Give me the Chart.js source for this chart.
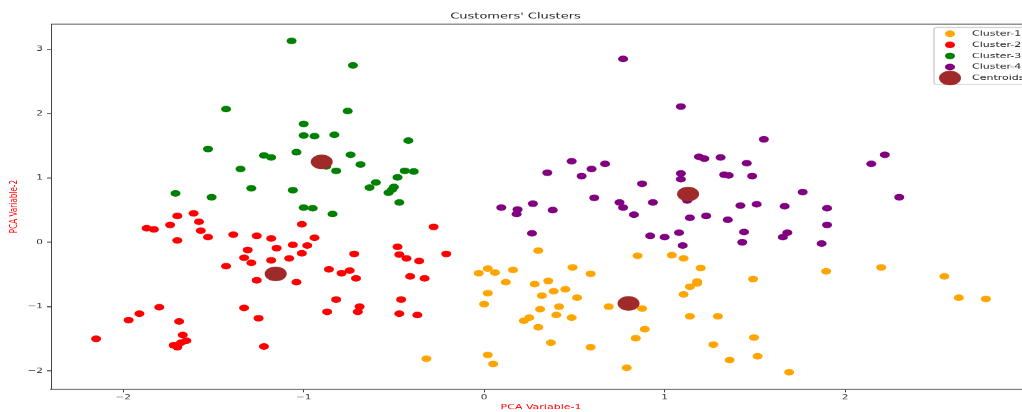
<!DOCTYPE html>
<html>
<head>
<meta charset="utf-8">
<script src="https://cdn.jsdelivr.net/npm/chart.js@4.4.0/dist/chart.umd.min.js"></script>
<style>
  html, body { margin: 0; padding: 0; background: #fff; overflow: hidden; }
  /* the reference figure is squashed vertically, so draw tall and scale down */
  #wrap { width: 1082px; height: 624px; transform: scaleY(0.66); transform-origin: 0 0; }
</style>
</head>
<body>
<div id="wrap"><canvas id="chart" width="1082" height="624"></canvas></div>
<script>
// axis ranges / ticks
const xMin = -2.40, xMax = 3.03;
const yMin = -2.28, yMax = 3.39;
const xTicks = [-2, -1, 0, 1, 2];
const yTicks = [-2, -1, 0, 1, 2, 3];

// Cluster-1 (orange)
const c1X = [0.30, -0.03, 0.02, 0.06, 0.16, 0.12, 0.02, 0.00, 0.28, 0.355, 0.385, 0.45, 0.32, 0.515, 0.49, 0.59,
  0.415, 0.31, 0.40, 0.485, 0.25, 0.22, 0.30, 0.69, 0.875, 0.89, 0.84, 0.37, 0.59, 0.79, 0.02, 0.05, -0.32, 0.85,
  1.04, 1.105, 1.20, 1.18, 1.14, 1.18, 1.105, 1.14, 1.295, 1.27, 1.36, 1.495, 1.515, 1.69, 1.49, 1.895, 2.20, 2.55, 2.63, 2.78];
const c1Y = [-0.13, -0.48, -0.41, -0.47, -0.43, -0.62, -0.79, -0.96, -0.65, -0.60, -0.76, -0.73, -0.83, -0.86, -0.39, -0.49,
  -1.00, -1.04, -1.13, -1.17, -1.17, -1.22, -1.32, -1.00, -1.03, -1.35, -1.49, -1.56, -1.63, -1.95, -1.75, -1.89, -1.81, -0.21,
  -0.20, -0.25, -0.40, -0.61, -0.69, -0.64, -0.81, -1.15, -1.15, -1.59, -1.83, -1.48, -1.77, -2.02, -0.57, -0.45, -0.39, -0.53, -0.86, -0.88];

// Cluster-2 (red)
const c2X = [-1.87, -1.83, -1.74, -1.70, -1.70, -1.61, -1.58, -1.57, -1.53, -1.39, -1.26, -1.18, -1.15, -1.31, -1.33, -1.29,
  -1.18, -1.08, -1.06, -1.01, -0.98, -0.94, -1.01, -1.43, -1.26, -1.04, -0.86, -0.82, -0.87, -1.33, -1.25, -1.22,
  -1.80, -1.91, -1.97, -2.15, -1.69, -1.67, -1.65, -1.72, -1.70, -1.68, -0.79, -0.28, -0.48, -0.47, -0.43, -0.36,
  -0.21, -0.72, -0.745, -0.71, -0.41, -0.33, -0.46, -0.69, -0.70, -0.47, -0.37];
const c2Y = [0.22, 0.20, 0.27, 0.41, 0.03, 0.45, 0.32, 0.18, 0.08, 0.12, 0.10, 0.06, -0.09, -0.12, -0.24, -0.32,
  -0.28, -0.25, -0.04, -0.17, -0.05, 0.07, 0.28, -0.37, -0.59, -0.62, -0.42, -0.89, -1.08, -1.02, -1.18, -1.62,
  -1.01, -1.11, -1.21, -1.50, -1.23, -1.44, -1.53, -1.60, -1.63, -1.56, -0.48, 0.24, -0.07, -0.19, -0.25, -0.29,
  -0.18, -0.18, -0.44, -0.56, -0.53, -0.56, -0.89, -1.00, -1.08, -1.11, -1.13];

// Cluster-3 (green)
const c3X = [-1.067, -1.43, -1.00, -1.00, -0.94, -0.83, -1.53, -1.22, -1.18, -1.04, -1.35, -0.875, -0.82, -1.71, -1.51, -1.29,
  -1.06, -1.00, -0.95, -0.84, -0.727, -0.756, -0.74, -0.685, -0.42, -0.60, -0.635, -0.48, -0.44, -0.39, -0.50, -0.51, -0.53, -0.47];
const c3Y = [3.13, 2.07, 1.84, 1.66, 1.65, 1.67, 1.45, 1.35, 1.32, 1.40, 1.14, 1.18, 1.11, 0.76, 0.70, 0.84,
  0.81, 0.54, 0.53, 0.44, 2.75, 2.04, 1.36, 1.21, 1.58, 0.93, 0.85, 1.01, 1.11, 1.10, 0.86, 0.82, 0.77, 0.62];

// Cluster-4 (purple)
const c4X = [0.77, 0.485, 0.35, 0.54, 0.595, 0.67, 0.875, 0.61, 0.75, 0.77, 0.935, 0.27, 0.095, 0.185, 0.18, 0.38, 0.83,
  0.265, 0.92, 1.00, 1.09, 1.55, 1.19, 1.22, 1.31, 1.455, 1.33, 1.355, 1.485, 1.09, 1.09, 1.125, 2.145, 2.22, 1.765,
  2.30, 1.42, 1.51, 1.665, 1.90, 1.14, 1.23, 1.35, 1.08, 1.10, 1.44, 1.43, 1.68, 1.655, 1.90, 1.87];
const c4Y = [2.85, 1.26, 1.08, 1.03, 1.14, 1.22, 0.91, 0.69, 0.62, 0.54, 0.62, 0.60, 0.54, 0.51, 0.44, 0.50, 0.43,
  0.14, 0.10, 0.08, 2.11, 1.60, 1.33, 1.30, 1.32, 1.23, 1.05, 1.04, 1.03, 1.07, 0.98, 0.65, 1.22, 1.36, 0.78,
  0.70, 0.57, 0.59, 0.56, 0.53, 0.38, 0.41, 0.35, 0.15, -0.05, 0.16, 0.00, 0.15, 0.08, 0.27, -0.02];

// Centroids
const centX = [0.80, -1.155, -0.90, 1.13];
const centY = [-0.95, -0.49, 1.25, 0.75];

const pts = (xs, ys) => xs.map((x, i) => ({ x: x, y: ys[i] }));
const fmt = (v) => (v < 0 ? '\u2212' + Math.abs(v) : String(v));

// top/right spines like matplotlib
const framePlugin = {
  id: 'frame',
  beforeDatasetsDraw(chart) {
    const { ctx, chartArea: a } = chart;
    ctx.save();
    ctx.strokeStyle = '#444';
    ctx.lineWidth = 1.5;
    ctx.beginPath();
    ctx.moveTo(a.left, a.top);
    ctx.lineTo(a.right, a.top);
    ctx.stroke();
    ctx.lineWidth = 1;
    ctx.beginPath();
    ctx.moveTo(a.right, a.top);
    ctx.lineTo(a.right, a.bottom);
    ctx.stroke();
    ctx.restore();
  }
};

// boxed legend in the upper right corner
const boxLegend = {
  id: 'boxLegend',
  afterDraw(chart) {
    const { ctx, chartArea: a } = chart;
    const sets = chart.data.datasets;
    const left = 934, right = a.right - 4, top = a.top + 5, rowH = 16.75;
    const bottom = top + 19.2 + rowH * (sets.length - 1);
    ctx.save();
    ctx.fillStyle = 'rgba(255,255,255,0.8)';
    ctx.strokeStyle = '#d0d0d0';
    ctx.lineWidth = 1.5;
    ctx.beginPath();
    ctx.roundRect(left, top, right - left, bottom - top, 3);
    ctx.fill();
    ctx.stroke();
    ctx.font = "11px 'DejaVu Sans'";
    ctx.textBaseline = 'middle';
    sets.forEach((ds, i) => {
      const y = top + 9.6 + i * rowH;
      ctx.fillStyle = ds.backgroundColor;
      ctx.beginPath();
      ctx.arc(950, y, ds.pointRadius, 0, Math.PI * 2);
      ctx.fill();
      ctx.fillStyle = '#222';
      ctx.fillText(ds.label, 972, y);
    });
    ctx.restore();
  }
};

Chart.defaults.font.family = "'DejaVu Sans', sans-serif";

const ctx = document.getElementById('chart').getContext('2d');
new Chart(ctx, {
  type: 'scatter',
  data: {
    datasets: [
      { label: 'Cluster-1', data: pts(c1X, c1Y), backgroundColor: '#ffa500', pointRadius: 5, borderWidth: 0, order: 4 },
      { label: 'Cluster-2', data: pts(c2X, c2Y), backgroundColor: '#ff0000', pointRadius: 5, borderWidth: 0, order: 3 },
      { label: 'Cluster-3', data: pts(c3X, c3Y), backgroundColor: '#008000', pointRadius: 5, borderWidth: 0, order: 2 },
      { label: 'Cluster-4', data: pts(c4X, c4Y), backgroundColor: '#800080', pointRadius: 5, borderWidth: 0, order: 1 },
      { label: 'Centroids', data: pts(centX, centY), backgroundColor: '#a02a2a', pointRadius: 11, borderWidth: 0, order: 0 },
    ],
  },
  options: {
    responsive: false,
    animation: false,
    layout: { padding: { left: 0, right: 51, top: 0, bottom: 0 } },
    plugins: {
      legend: { display: false },
      tooltip: { enabled: false },
      title: {
        display: true,
        text: "Customers' Clusters",
        color: '#222',
        font: { size: 13, weight: 'normal' },
        padding: { top: 17, bottom: 4 },
      },
    },
    scales: {
      x: {
        type: 'linear',
        position: 'bottom',
        min: xMin,
        max: xMax,
        afterBuildTicks: (s) => { s.ticks = xTicks.map((v) => ({ value: v })); },
        afterFit: (s) => { s.height = 34.6; },
        grid: { drawOnChartArea: false, drawTicks: true, tickLength: 5, color: '#444', lineWidth: 1 },
        border: { display: true, color: '#444', width: 1.5 },
        ticks: { color: '#333', font: { size: 10.5 }, padding: 2, maxRotation: 0, callback: fmt },
        title: { display: true, text: 'PCA Variable-1', color: 'red', font: { size: 11 }, padding: { top: 0, bottom: 0 } },
      },
      y: {
        type: 'linear',
        min: yMin,
        max: yMax,
        afterBuildTicks: (s) => { s.ticks = yTicks.map((v) => ({ value: v })); },
        afterFit: (s) => { s.width = 51; },
        grid: { drawOnChartArea: false, drawTicks: true, tickLength: 4, color: '#444', lineWidth: 1.5 },
        border: { display: true, color: '#444', width: 1 },
        ticks: { color: '#333', font: { size: 10.5 }, padding: 4, callback: fmt },
        title: { display: true, text: 'PCA Variable-2', color: 'red', font: { size: 11 }, padding: { top: 8, bottom: 0 } },
      },
    },
  },
  plugins: [framePlugin, boxLegend],
});
</script>
</body>
</html>
